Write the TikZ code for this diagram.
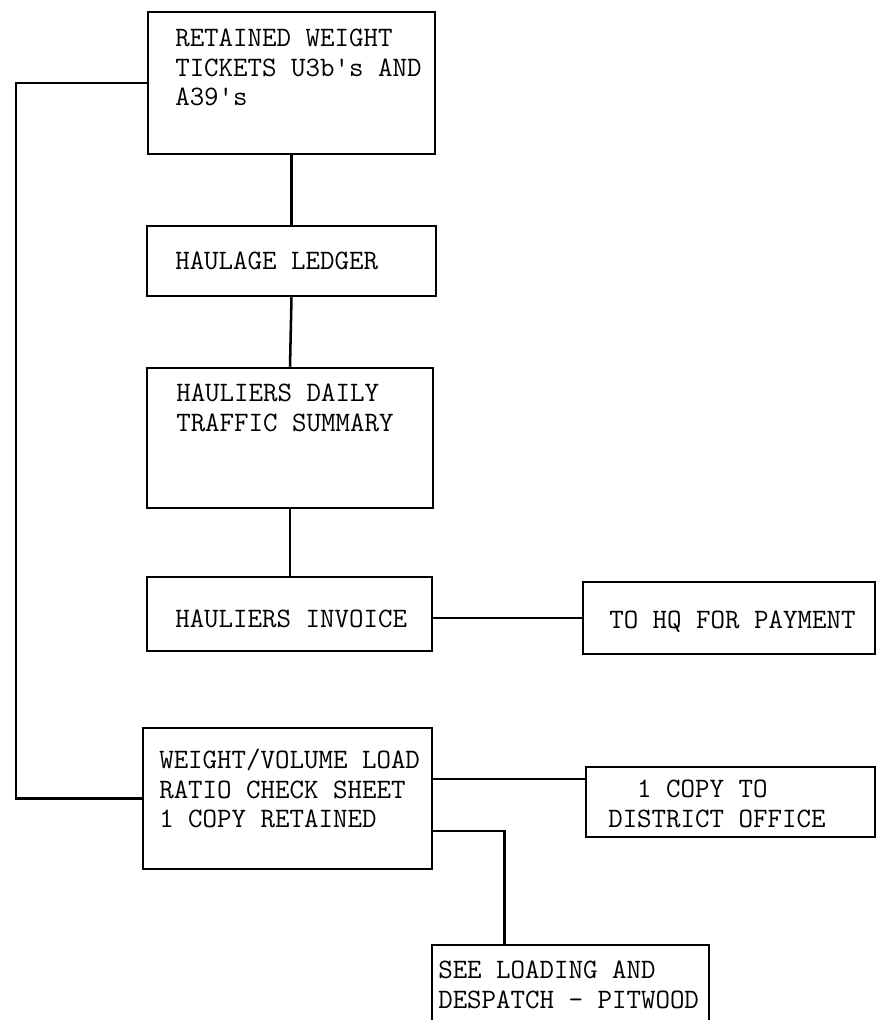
\documentclass[tikz,border=0pt]{standalone}
\usetikzlibrary{fit}
\tikzset{
  box/.style={draw, inner sep=0pt, fit={#1}},
  txt/.style={anchor=north west, inner sep=0pt, align=left, font=\ttfamily\fontsize{20}{21}\selectfont}
}

\begin{document}
\begin{tikzpicture}[x=0.025cm, y=-0.025cm, line width=1.8pt]
  \useasboundingbox (0,0) rectangle (876,1020);
  \clip (0,0) rectangle (876,1020);

  \node[box={(148,12) (435,154)}] (tickets) {};
  \node[txt] (tickets-t) at (174,28) {RETAINED WEIGHT\\TICKETS U3b\textquotesingle s AND\\A39\textquotesingle s};
  \node[box={(147,226) (436,296)}] (ledger) {};
  \node[txt] (ledger-t) at (174,251) {HAULAGE LEDGER};
  \node[box={(147,368) (433,508)}] (summary) {};
  \node[txt] (summary-t) at (175,383) {HAULIERS DAILY\\TRAFFIC SUMMARY};
  \node[box={(147,577) (432,651)}] (invoice) {};
  \node[txt] (invoice-t) at (174,609) {HAULIERS INVOICE};
  \node[box={(583,582) (875,654)}] (hq) {};
  \node[txt] (hq-t) at (608,610) {TO HQ FOR PAYMENT};
  \node[box={(143,728) (432,869)}] (weight) {};
  \node[txt] (weight-t) at (158,748) {WEIGHT/VOLUME LOAD\\RATIO CHECK SHEET\\1 COPY RETAINED};
  \node[box={(586,767) (875,837)}] (copy) {};
  \node[txt] (copy-t) at (607,779) {\phantom{00}1 COPY TO\\DISTRICT OFFICE};
  \node[box={(432,945) (709,1060)}] (pitwood) {};
  \node[txt] (pitwood-t) at (437,960) {SEE LOADING AND\\DESPATCH - PITWOOD};

  \coordinate (loop) at (16,0);
  \draw (tickets.south) -- (ledger.north);
  \draw (ledger.south) -- (summary.north);
  \draw (summary.south) -- (summary.south |- invoice.north);
  \draw (hq.west -| invoice.east) -- (hq.west);
  \draw (tickets.west) -- (tickets.west -| loop) |- (weight.west);
  \draw ([yshift=14pt]weight.east) -- ([yshift=14pt]weight.east -| copy.west);
  \draw ([yshift=-23pt]weight.east) -| ([xshift=-47pt]pitwood.north);
\end{tikzpicture}
\end{document}
